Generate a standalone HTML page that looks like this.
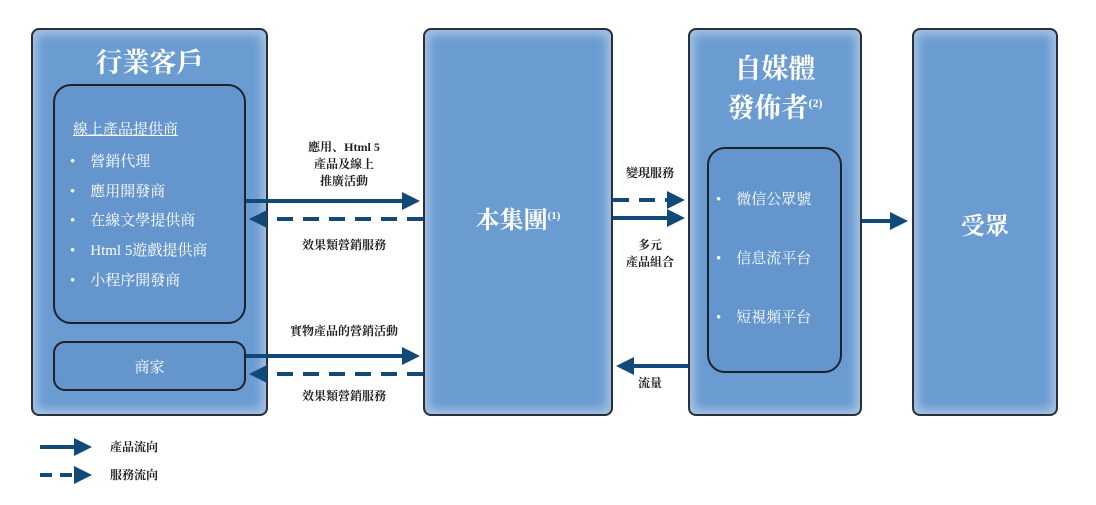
<!DOCTYPE html><html><head><meta charset="utf-8"><style>
body{margin:0;background:#fff;width:1096px;height:505px;overflow:hidden;position:relative;font-family:"Liberation Serif","Noto Serif CJK SC","Noto Sans CJK TC",serif}
.b{position:absolute;background:#6a9bd1;border:2px solid #2a2f38;border-radius:8px;box-sizing:border-box;box-shadow:inset 0 0 10px 4px #aac6e6}
.i{position:absolute;border:2px solid #1e232b;border-radius:18px;box-sizing:border-box;background:#6496cd}
.t{position:absolute;color:#fff;white-space:nowrap}
.l{position:absolute;color:#222;font-size:12px;font-weight:bold;text-align:center;line-height:17px;white-space:nowrap}
</style></head><body>
<div class="b" style="left:31px;top:28px;width:237px;height:388px"></div>
<div class="b" style="left:423px;top:28px;width:190px;height:388px"></div>
<div class="b" style="left:688px;top:28px;width:174px;height:388px"></div>
<div class="b" style="left:912px;top:28px;width:146px;height:388px"></div>
<div class="i" style="left:53px;top:84px;width:193px;height:240px"></div>
<div class="i" style="left:53px;top:341px;width:193px;height:50px;border-radius:12px"></div>
<div class="i" style="left:707px;top:147px;width:135px;height:226px"></div>
<div class="t" style="left:0;width:299px;text-align:center;top:41px;font-size:27px;font-weight:bold">行業客戶</div>
<div class="t" style="left:73px;top:118px;font-size:15px;text-decoration:underline">線上產品提供商</div>
<div class="t" style="left:70px;top:148px;font-size:15px;line-height:29.7px">•&nbsp;&nbsp;&nbsp; 營銷代理<br>•&nbsp;&nbsp;&nbsp; 應用開發商<br>•&nbsp;&nbsp;&nbsp; 在線文學提供商<br>•&nbsp;&nbsp;&nbsp; Html 5遊戲提供商<br>•&nbsp;&nbsp;&nbsp; 小程序開發商</div>
<div class="t" style="left:53px;width:193px;text-align:center;top:356px;font-size:15px">商家</div>
<div class="t" style="left:423px;width:190px;text-align:center;top:200px;font-size:24px;font-weight:bold">本集團<sup style="font-size:11px">(1)</sup></div>
<div class="t" style="left:688px;width:174px;text-align:center;top:52px;font-size:27px;font-weight:bold;line-height:34px">自媒體<br>發佈者<sup style="font-size:12px">(2)</sup></div>
<div class="t" style="left:716px;top:171px;font-size:15px;line-height:59px">•&nbsp;&nbsp;&nbsp; 微信公眾號<br>•&nbsp;&nbsp;&nbsp; 信息流平台<br>•&nbsp;&nbsp;&nbsp; 短視頻平台</div>
<div class="t" style="left:912px;width:146px;text-align:center;top:206px;font-size:24px;font-weight:bold">受眾</div>
<div class="l" style="left:284px;width:120px;top:139px">應用、Html 5<br>產品及線上<br>推廣活動</div>
<div class="l" style="left:284px;width:120px;top:237px">效果類營銷服務</div>
<div class="l" style="left:274px;width:140px;top:323px">實物產品的營銷活動</div>
<div class="l" style="left:284px;width:120px;top:388px">效果類營銷服務</div>
<div class="l" style="left:615px;width:70px;top:165px">變現服務</div>
<div class="l" style="left:615px;width:70px;top:237px">多元<br>產品組合</div>
<div class="l" style="left:615px;width:70px;top:375px">流量</div>
<div class="l" style="left:110px;top:439px;text-align:left">產品流向</div>
<div class="l" style="left:110px;top:467px;text-align:left">服務流向</div>
<svg width="1096" height="505" style="position:absolute;left:0;top:0">
<defs><marker id="a" markerWidth="4.5" markerHeight="4.5" refX="3.5" refY="2.25" orient="auto"><path d="M0,0L4.5,2.25L0,4.5z" fill="#114a78"/></marker></defs>
<g stroke="#114a78" stroke-width="4" fill="none" marker-end="url(#a)">
<line x1="246" y1="201" x2="416" y2="201"/>
<line x1="423" y1="219" x2="253" y2="219" stroke-dasharray="16,10"/>
<line x1="246" y1="356" x2="416" y2="356"/>
<line x1="423" y1="374" x2="253" y2="374" stroke-dasharray="16,10"/>
<line x1="613" y1="200" x2="681" y2="200" stroke-dasharray="16,10"/>
<line x1="613" y1="218" x2="681" y2="218"/>
<line x1="688" y1="366" x2="620" y2="366"/>
<line x1="862" y1="221" x2="904" y2="221"/>
<line x1="40" y1="447" x2="88" y2="447"/>
<line x1="40" y1="475" x2="88" y2="475" stroke-dasharray="12,8"/>
</g></svg>
</body></html>
